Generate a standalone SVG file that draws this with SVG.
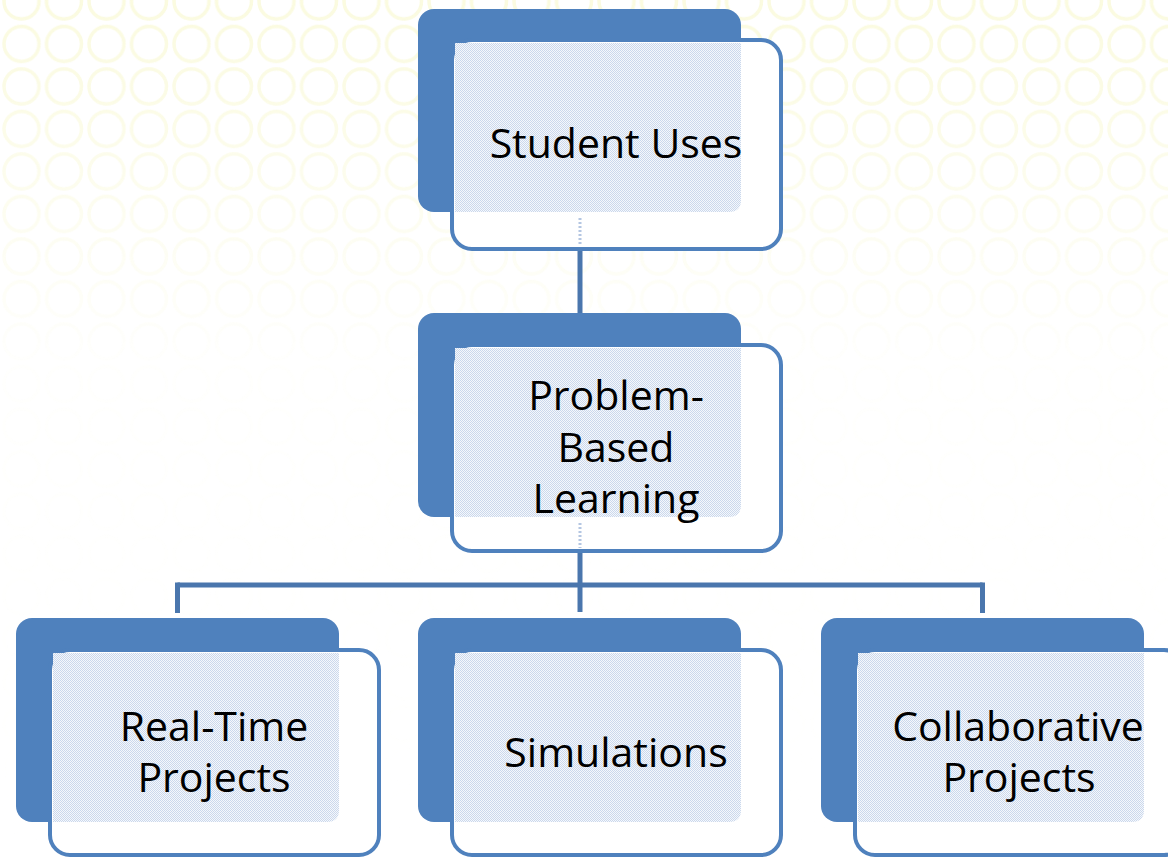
<svg xmlns="http://www.w3.org/2000/svg" width="1168" height="858" viewBox="0 0 1168 858">
  <defs>
    <pattern id="rings" x="0" y="0" width="42.5" height="42.5" patternUnits="userSpaceOnUse">
      <circle cx="21.5" cy="1.5" r="17.5" fill="none" stroke="#fafadc" stroke-width="3.5"/>
      <circle cx="21.5" cy="44" r="17.5" fill="none" stroke="#fafadc" stroke-width="3.5"/>
    </pattern>
    <linearGradient id="fadeGrad" x1="0" y1="0" x2="0" y2="1">
      <stop offset="0" stop-color="#fff" stop-opacity="0.9"/>
      <stop offset="0.12" stop-color="#fff" stop-opacity="0.7"/>
      <stop offset="0.3" stop-color="#fff" stop-opacity="0.3"/>
      <stop offset="0.42" stop-color="#fff" stop-opacity="0.06"/>
      <stop offset="1" stop-color="#fff" stop-opacity="0"/>
    </linearGradient>
    <mask id="fade" maskUnits="userSpaceOnUse" x="0" y="0" width="1168" height="858">
      <rect x="0" y="0" width="1168" height="858" fill="url(#fadeGrad)"/>
    </mask>
    <pattern id="dither" x="0" y="0" width="2" height="2" patternUnits="userSpaceOnUse">
      <rect width="2" height="2" fill="#f5f8fc"/>
      <rect width="1" height="1" fill="#cbd8ec"/>
      <rect x="1" y="1" width="1" height="1" fill="#cbd8ec"/>
    </pattern>
    <style>
      .back { fill: #4f81bd; }
      .front { fill: #ffffff; stroke: #4f81bd; stroke-width: 4; }
      .overlap { fill: url(#dither); }
      .label { font-family: "Open Sans", "Noto Sans", "Liberation Sans", sans-serif; font-size: 41px; fill: #000000; text-anchor: middle; }
      .conn { stroke: #4a76ad; stroke-width: 5; fill: none; }
      .ghost { stroke: #b4c6e2; stroke-width: 3; stroke-dasharray: 2 2; fill: none; }
    </style>
  </defs>

  <rect x="0" y="0" width="1168" height="858" fill="#ffffff"/>
  <rect x="0" y="0" width="1168" height="858" fill="url(#rings)" mask="url(#fade)"/>

  <g id="connectors">
    <line class="conn" x1="580" y1="251" x2="580" y2="313"/>
    <line class="conn" x1="580" y1="553" x2="580" y2="612"/>
    <line class="conn" x1="177.5" y1="585" x2="982.5" y2="585"/>
    <line class="conn" x1="177.5" y1="582.5" x2="177.5" y2="613"/>
    <line class="conn" x1="982.5" y1="582.5" x2="982.5" y2="613"/>
  </g>

  <g id="node-student-uses">
    <rect class="back" x="418" y="9" width="323" height="203" rx="16"/>
    <rect class="front" x="452" y="40" width="329" height="209" rx="20"/>
    <path class="overlap" d="M455,43 H741 V200 Q741,212 729,212 H455 Z"/>
    <line class="ghost" x1="580" y1="218" x2="580" y2="246"/>
    <text class="label" x="616" y="158">Student Uses</text>
  </g>

  <g id="node-problem-based-learning">
    <rect class="back" x="418" y="313" width="323" height="204" rx="16"/>
    <rect class="front" x="452" y="345" width="329" height="206" rx="20"/>
    <path class="overlap" d="M455,348 H741 V505 Q741,517 729,517 H455 Z"/>
    <line class="ghost" x1="580" y1="523" x2="580" y2="548"/>
    <text class="label" x="616" y="410">Problem-</text>
    <text class="label" x="616" y="462">Based</text>
    <text class="label" x="616" y="513">Learning</text>
  </g>

  <g id="node-real-time-projects">
    <rect class="back" x="16" y="618" width="323" height="204" rx="16"/>
    <rect class="front" x="50" y="650" width="329" height="205" rx="20"/>
    <path class="overlap" d="M53,653 H339 V810 Q339,822 327,822 H53 Z"/>
    <text class="label" x="214" y="741">Real-Time</text>
    <text class="label" x="214" y="792">Projects</text>
  </g>

  <g id="node-simulations">
    <rect class="back" x="418" y="618" width="323" height="204" rx="16"/>
    <rect class="front" x="452" y="650" width="329" height="205" rx="20"/>
    <path class="overlap" d="M455,653 H741 V810 Q741,822 729,822 H455 Z"/>
    <text class="label" x="616" y="767">Simulations</text>
  </g>

  <g id="node-collaborative-projects">
    <rect class="back" x="821" y="618" width="323" height="204" rx="16"/>
    <rect class="front" x="855" y="650" width="329" height="205" rx="20"/>
    <path class="overlap" d="M858,653 H1144 V810 Q1144,822 1132,822 H858 Z"/>
    <text class="label" x="1018" y="741">Collaborative</text>
    <text class="label" x="1019" y="792">Projects</text>
  </g>
</svg>
